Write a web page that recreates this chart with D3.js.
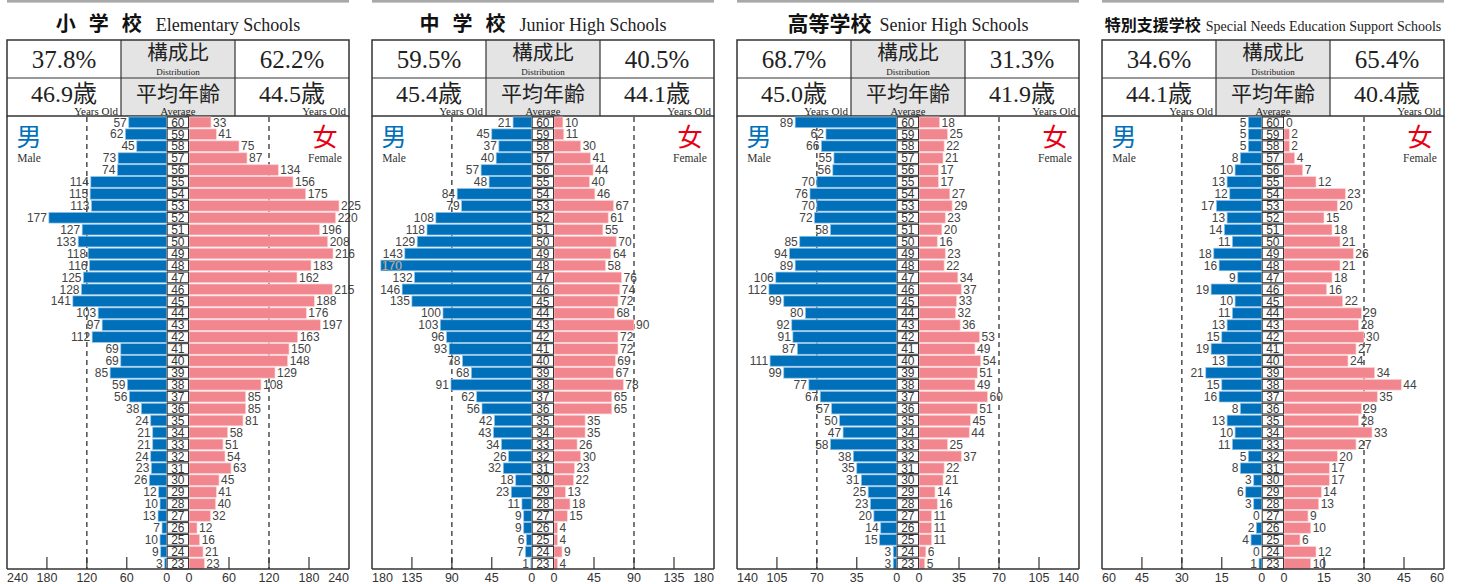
<!DOCTYPE html>
<html><head><meta charset="utf-8">
<script src="https://cdn.jsdelivr.net/npm/d3@7"></script>
<style>
body{margin:0;background:#fff;}
svg{display:block;}
</style></head>
<body>
<svg id="chart" width="1460" height="584"></svg>
<script>
const ages = d3.range(60, 22, -1);

const elemMale   = [57,62,45,73,74,114,115,113,177,127,133,118,116,125,128,141,103,97,112,69,69,85,59,56,38,24,21,21,24,23,26,12,10,13,7,10,9,3];
const elemFemale = [33,41,75,87,134,156,175,225,220,196,208,216,183,162,215,188,176,197,163,150,148,129,108,85,85,81,58,51,54,63,45,41,40,32,12,16,21,23];
const juniorMale   = [21,45,37,40,57,48,84,79,108,118,129,143,170,132,146,135,100,103,96,93,78,68,91,62,56,42,43,34,26,32,18,23,11,9,9,6,7,1];
const juniorFemale = [10,11,30,41,44,40,46,67,61,55,70,64,58,76,74,72,68,90,72,72,69,67,78,65,65,35,35,26,30,23,22,13,18,15,4,4,9,4];
const seniorMale   = [89,62,66,55,56,70,76,70,72,58,85,94,89,106,112,99,80,92,91,87,111,99,77,67,57,50,47,58,38,35,31,25,23,20,14,15,3,3];
const seniorFemale = [18,25,22,21,17,17,27,29,23,20,16,23,22,34,37,33,32,36,53,49,54,51,49,60,51,45,44,25,37,22,21,14,16,11,11,11,6,5];
const specialMale   = [5,5,5,8,10,13,12,17,13,14,11,18,16,9,19,10,11,13,15,19,13,21,15,16,8,13,10,11,5,8,3,6,3,0,2,4,0,1];
const specialFemale = [0,2,2,4,7,12,23,20,15,18,21,26,21,18,16,22,29,28,30,27,24,34,44,35,29,28,33,27,20,17,17,14,13,9,10,6,12,10];

const titlesJa = ["小学校", "中学校", "高等学校", "特別支援学校"];
const titlesEn = ["Elementary Schools", "Junior High Schools", "Senior High Schools", "Special Needs Education Support Schools"];
const distMale   = ["37.8%", "59.5%", "68.7%", "34.6%"];
const distFemale = ["62.2%", "40.5%", "31.3%", "65.4%"];
const avgMale    = ["46.9歳", "45.4歳", "45.0歳", "44.1歳"];
const avgFemale  = ["44.5歳", "44.1歳", "41.9歳", "40.4歳"];
const axisMax    = [240, 180, 140, 60];

const maleSeries = [elemMale, juniorMale, seniorMale, specialMale];
const femaleSeries = [elemFemale, juniorFemale, seniorFemale, specialFemale];

const svg = d3.select("#chart");
const BLUE = "#0070bb", PINK = "#f2868f", RED = "#e60012";
const SERIF = "'Liberation Serif','DejaVu Serif','Noto Sans CJK JP',serif";
const SANS = "'Liberation Sans',Arial,'DejaVu Sans',sans-serif";
const CJK = "'Noto Sans CJK JP','Liberation Serif',serif";

const yTop = 117, yBottom = 569;
const y = d3.scaleBand().domain(ages).range([yTop, yBottom]).paddingInner(0.11).paddingOuter(0);

// title styles per panel
const jaSize = [20, 20, 21, 16];
const jaSpacing = [13, 13, 0, 0];
const enSize = [18, 18, 18, 14];
const titleGap = [14, 14, 8, 5];

for (let p = 0; p < 4; p++) {
  const ox = p * 365;
  const L = ox + 7, R = ox + 349;
  const zM = ox + 166.7, zF = ox + 189;
  const mx = axisMax[p];
  const xM = d3.scaleLinear().domain([0, mx]).range([zM, L]);
  const xF = d3.scaleLinear().domain([0, mx]).range([zF, R]);
  const g = svg.append("g");

  // top gray bar
  g.append("rect").attr("x", L).attr("y", 0).attr("width", R - L).attr("height", 2.6).attr("fill", "#a8a8a8");

  // title
  const ja = g.append("text").attr("y", 31).attr("font-family", CJK).attr("font-weight", "bold")
    .attr("font-size", jaSize[p]).attr("letter-spacing", jaSpacing[p]).attr("fill", "#111").text(titlesJa[p]);
  const en = g.append("text").attr("y", 31).attr("font-family", SERIF).attr("font-size", enSize[p]).attr("fill", "#222").text(titlesEn[p]);
  let wj = ja.node().getComputedTextLength();
  let we = en.node().getComputedTextLength();
  if (jaSpacing[p] > 0) wj -= jaSpacing[p];
  const avail = R - L - 2;
  if (wj + titleGap[p] + we > avail) {
    we = avail - wj - titleGap[p];
    en.attr("textLength", we).attr("lengthAdjust", "spacingAndGlyphs");
  }
  const total = wj + titleGap[p] + we;
  const sx = (L + R) / 2 - total / 2;
  ja.attr("x", sx);
  en.attr("x", sx + wj + titleGap[p]);

  // header table
  const c1 = ox + 121, c2 = ox + 235;
  const hy0 = 40, hy1 = 78, hy2 = 116;
  g.append("rect").attr("x", c1).attr("y", hy0).attr("width", c2 - c1).attr("height", hy2 - hy0).attr("fill", "#e4e4e4");
  g.append("rect").attr("x", L).attr("y", hy0).attr("width", R - L).attr("height", hy2 - hy0)
    .attr("fill", "none").attr("stroke", "#333").attr("stroke-width", 1.5);
  g.append("line").attr("x1", L).attr("x2", R).attr("y1", hy1).attr("y2", hy1).attr("stroke", "#333").attr("stroke-width", 1.2);
  [c1, c2].forEach(cx => g.append("line").attr("x1", cx).attr("x2", cx).attr("y1", hy0).attr("y2", hy2).attr("stroke", "#333").attr("stroke-width", 1.2));

  const bigText = (x, yy, t, fam, size) => g.append("text").attr("x", x).attr("y", yy).attr("text-anchor", "middle")
    .attr("font-family", fam).attr("font-size", size).attr("fill", "#222").text(t);
  bigText((L + c1) / 2, 68, distMale[p], SERIF, 25);
  bigText((c2 + R) / 2, 68, distFemale[p], SERIF, 25);
  bigText((L + c1) / 2, 102, avgMale[p], SERIF, 24);
  bigText((c2 + R) / 2, 102, avgFemale[p], SERIF, 24);
  bigText((c1 + c2) / 2, 60, "構成比", CJK, 20.5);
  bigText((c1 + c2) / 2, 101, "平均年齢", CJK, 21);
  bigText((c1 + c2) / 2, 74.5, "Distribution", SERIF, 9);
  bigText((c1 + c2) / 2, 114.5, "Average", SERIF, 10.5);
  g.append("text").attr("x", c1 - 3).attr("y", 114.5).attr("text-anchor", "end").attr("font-family", SERIF).attr("font-size", 11).attr("fill", "#222").text("Years Old");
  g.append("text").attr("x", R - 3).attr("y", 114.5).attr("text-anchor", "end").attr("font-family", SERIF).attr("font-size", 11).attr("fill", "#222").text("Years Old");

  // dashed guides at half max
  [xM(mx / 2), xF(mx / 2)].forEach(dx => g.append("line").attr("x1", dx).attr("x2", dx).attr("y1", yTop).attr("y2", yBottom)
    .attr("stroke", "#333").attr("stroke-width", 1.3).attr("stroke-dasharray", "5,4"));

  // bars
  const males = maleSeries[p], females = femaleSeries[p];
  g.selectAll(".m").data(ages).enter().append("rect")
    .attr("x", (d, i) => xM(males[i])).attr("y", d => y(d))
    .attr("width", (d, i) => zM - xM(males[i])).attr("height", y.bandwidth())
    .attr("fill", BLUE).attr("stroke", "#8fc1e6").attr("stroke-width", 0.7);
  g.selectAll(".f").data(ages).enter().append("rect")
    .attr("x", zF).attr("y", d => y(d))
    .attr("width", (d, i) => xF(females[i]) - zF).attr("height", y.bandwidth())
    .attr("fill", PINK).attr("stroke", "#fbd3d6").attr("stroke-width", 0.7);

  // value labels
  ages.forEach((a, i) => {
    const cy = y(a) + y.bandwidth() / 2 + 4.2;
    const vm = males[i], xm = xM(vm);
    const inside = xm - 20 < L;
    g.append("text").attr("x", inside ? xm + 1 : xm - 2).attr("y", cy)
      .attr("text-anchor", inside ? "start" : "end")
      .attr("font-family", SANS).attr("font-size", 12)
      .attr("fill", inside ? "#fff" : "#444")
      .attr("stroke", inside ? "#555" : "none").attr("stroke-width", inside ? 0.4 : 0)
      .text(vm);
    const vf = females[i], xf = xF(vf);
    g.append("text").attr("x", xf + 2).attr("y", cy).attr("text-anchor", "start")
      .attr("font-family", SANS).attr("font-size", 12).attr("fill", "#444").text(vf);
  });

  // age column
  g.selectAll(".age").data(ages).enter().append("rect")
    .attr("x", zM + 0.5).attr("y", d => y(d)).attr("width", zF - zM - 1).attr("height", y.bandwidth())
    .attr("fill", "#fff").attr("stroke", "#333").attr("stroke-width", 1);
  g.selectAll(".agel").data(ages).enter().append("text")
    .attr("x", (zM + zF) / 2).attr("y", d => y(d) + y.bandwidth() / 2 + 4.3).attr("text-anchor", "middle")
    .attr("font-family", SANS).attr("font-size", 12).attr("fill", "#333").text(d => d);

  // frame sides and axis
  [L, R].forEach(fx => g.append("line").attr("x1", fx).attr("x2", fx).attr("y1", hy2).attr("y2", yBottom)
    .attr("stroke", "#333").attr("stroke-width", 1.5));
  g.append("line").attr("x1", L).attr("x2", R).attr("y1", yBottom).attr("y2", yBottom).attr("stroke", "#333").attr("stroke-width", 1.5);

  const ticks = d3.range(0, mx + 0.001, mx / 4);
  ticks.forEach(t => {
    if (t > 0 && t < mx) {
      [xM(t), xF(t)].forEach(tx => g.append("line").attr("x1", tx).attr("x2", tx).attr("y1", yBottom - 12).attr("y2", yBottom)
        .attr("stroke", "#333").attr("stroke-width", 1.2));
    }
    const lm = g.append("text").attr("y", 582).attr("font-family", SANS).attr("font-size", 12.5).attr("fill", "#333").text(t);
    const lf = g.append("text").attr("y", 582).attr("font-family", SANS).attr("font-size", 12.5).attr("fill", "#333").text(t);
    if (t === mx) {
      lm.attr("x", L).attr("text-anchor", "start");
      lf.attr("x", R).attr("text-anchor", "end");
    } else {
      lm.attr("x", xM(t)).attr("text-anchor", "middle");
      lf.attr("x", xF(t)).attr("text-anchor", "middle");
    }
  });

  // sex labels
  g.append("text").attr("x", ox + 29).attr("y", 146).attr("text-anchor", "middle").attr("font-family", CJK).attr("font-size", 25).attr("fill", BLUE).text("男");
  g.append("text").attr("x", ox + 29).attr("y", 162).attr("text-anchor", "middle").attr("font-family", SERIF).attr("font-size", 11.5).attr("fill", "#333").text("Male");
  g.append("text").attr("x", ox + 325).attr("y", 146).attr("text-anchor", "middle").attr("font-family", CJK).attr("font-size", 25).attr("fill", RED).text("女");
  g.append("text").attr("x", ox + 325).attr("y", 162).attr("text-anchor", "middle").attr("font-family", SERIF).attr("font-size", 11.5).attr("fill", "#333").text("Female");
}
</script>
</body></html>
